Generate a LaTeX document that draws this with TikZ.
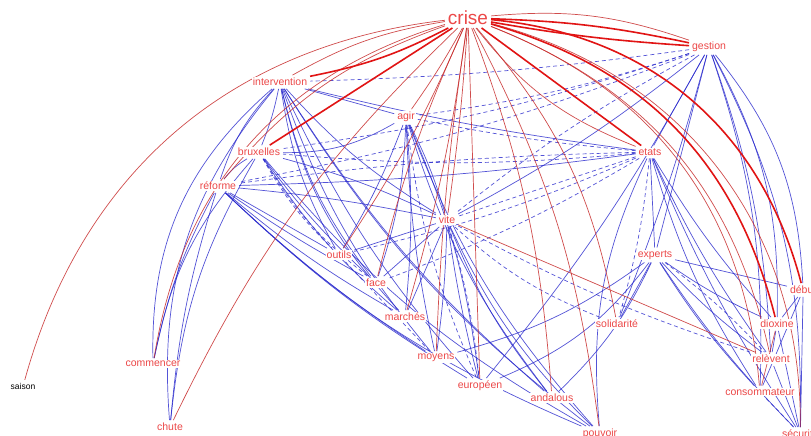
\documentclass[tikz,border=0pt]{standalone}
\usepackage{fontspec}
\setmainfont{Liberation Sans}
\usetikzlibrary{positioning, backgrounds}
\definecolor{wordRed}{RGB}{236,72,72}
\definecolor{edgeRed}{RGB}{225,20,20}
\definecolor{edgeDark}{RGB}{200,45,45}
\definecolor{edgeBlue}{RGB}{40,40,205}
\tikzset{
	word/.style={text=wordRed, font=\fontsize{10.5}{11}\selectfont, inner sep=1pt, outer sep=2pt, fill=white},
	bigword/.style={word, font=\fontsize{19}{20}\selectfont},
	redthick/.style={draw=edgeRed, line width=1.6pt},
	redthin/.style={draw=edgeDark, line width=0.7pt, opacity=0.85},
	bluesolid/.style={draw=edgeBlue, line width=0.7pt, opacity=0.8},
	bluedash/.style={draw=edgeBlue, line width=0.7pt, opacity=0.8, dash pattern=on 4pt off 3pt},
}
\begin{document}
\begin{tikzpicture}[x=1pt, y=-1pt]
	\clip (0,0) rectangle (811,436);
	% words
	\node[bigword] (crise) at (468,18) {crise};
	\node[word] (gestion) at (709,47) {gestion};
	\node[word] (interv) at (280,82) {intervention};
	\node[word] (agir) at (406,117) {agir};
	\node[word] (brux) at (259,152) {bruxelles};
	\node[word] (etats) at (650,152) {etats};
	\node[word] (reforme) at (218,186) {réforme};
	\node[word] (vite) at (447,220) {vite};
	\node[word] (outils) at (339,255) {outils};
	\node[word] (experts) at (655,255) {experts};
	\node[word] (face) at (376,283) {face};
	\node[word, anchor=west] (debut) at (787,290) {début};
	\node[word] (marches) at (405,317) {marchés};
	\node[word] (solid) at (617,324) {solidarité};
	\node[word] (dioxine) at (777,324) {dioxine};
	\node[word] (moyens) at (436,358) {moyens};
	\node[word] (relev) at (771,359) {relèvent};
	\node[word] (commencer) at (153,364) {commencer};
	\node[word, text=black, font=\fontsize{8.5}{9}\selectfont] (saison) at (23,386) {saison};
	\node[word] (europ) at (480,386) {européen};
	\node[word] (andal) at (552,398) {andalous};
	\node[word] (conso) at (760,392) {consommateur};
	\node[word] (chute) at (170,427) {chute};
	\node[word] (pouvoir) at (600,434) {pouvoir};
	\node[word, anchor=west] (secur) at (779,434) {sécurité};
	\begin{scope}[on background layer]
	\fill[white] (0,0) rectangle (811,436);
	% blue links
	\foreach \a/\b/\bd in {interv/commencer/-25, interv/chute/-22, brux/commencer/-15, brux/chute/-12,
		reforme/commencer/-8, reforme/chute/-6, interv/reforme/-12, interv/brux/5, brux/reforme/-10,
		interv/agir/0, interv/etats/-3, interv/vite/-8, interv/outils/-10, interv/face/-12,
		interv/marches/-15, interv/moyens/-10, interv/europ/-8, interv/pouvoir/-10, interv/andal/-8,
		brux/vite/5, brux/face/-5, brux/marches/-8, brux/pouvoir/-10, brux/agir/-15,
		reforme/etats/-3, reforme/vite/3, reforme/outils/0, reforme/face/-3, reforme/marches/-5,
		reforme/moyens/-5, reforme/pouvoir/-10, reforme/europ/-6,
		agir/vite/5, agir/outils/5, agir/face/8, agir/marches/5, agir/moyens/-5, agir/europ/8,
		agir/pouvoir/-10, agir/andal/-10,
		vite/outils/0, vite/face/0, vite/marches/0, vite/moyens/3, vite/europ/-3, vite/andal/-8, vite/pouvoir/-10,
		gestion/etats/0, gestion/experts/0, gestion/vite/5, gestion/europ/5, gestion/solid/3,
		gestion/debut/18, gestion/dioxine/15, gestion/conso/10, gestion/secur/14, gestion/relev/8,
		etats/experts/0, etats/dioxine/-5, etats/relev/-5, etats/conso/-8, etats/secur/-5, etats/pouvoir/-15,
		experts/debut/0, experts/dioxine/-5, experts/relev/-5, experts/conso/-5, experts/solid/0,
		experts/europ/15, experts/andal/10, experts/moyens/10, experts/secur/-5,
		debut/dioxine/0, debut/conso/0, debut/secur/0, dioxine/relev/0, dioxine/secur/0, relev/secur/0}
		\draw[bluesolid] (\a) to[bend left=\bd] (\b);
	\foreach \a/\b/\bd in {gestion/interv/3, gestion/agir/5, gestion/vite/-5, gestion/brux/5, gestion/reforme/5,
		etats/agir/3, etats/brux/5, etats/vite/0, etats/reforme/-3, etats/outils/5, etats/solid/5, etats/face/5,
		agir/europ/-8, brux/outils/-8, brux/face/-10, vite/europ/5, vite/solid/-10, vite/relev/-5,
		conso/secur/0, outils/moyens/0, experts/relev/5}
		\draw[bluedash] (\a) to[bend left=\bd] (\b);
	% red links
	\foreach \a/\b/\bd in {crise/saison/-34, crise/commencer/-32, crise/chute/-10, crise/interv/-10,
		crise/reforme/-15, crise/agir/3, crise/outils/5, crise/face/-5, crise/marches/4, crise/moyens/-3,
		crise/vite/2, crise/europ/0, crise/andal/8, crise/pouvoir/10, crise/solid/15, crise/etats/-15,
		crise/secur/38, crise/relev/28, crise/conso/32, crise/gestion/12, vite/relev/0, conso/dioxine/0}
		\draw[redthin] (\a) to[bend left=\bd] (\b);
	\foreach \a/\b/\bd in {crise/gestion/5, crise/gestion/-3, crise/etats/0, crise/interv/8, crise/brux/0,
		crise/debut/35, crise/dioxine/30}
		\draw[redthick] (\a) to[bend left=\bd] (\b);
	\end{scope}
\end{tikzpicture}
\end{document}
